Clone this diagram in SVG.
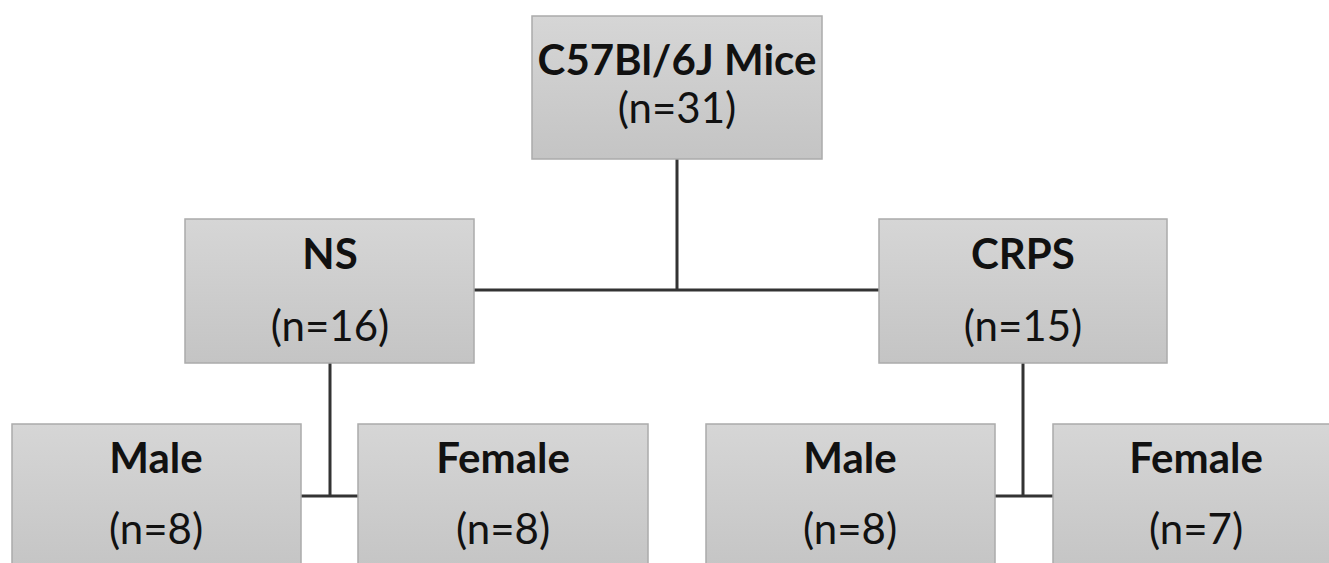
<svg xmlns="http://www.w3.org/2000/svg" width="1329" height="563" viewBox="0 0 1329 563">
<defs>
<linearGradient id="g" x1="0" y1="0" x2="0" y2="1">
<stop offset="0" stop-color="#d6d6d6"/>
<stop offset="1" stop-color="#c4c4c4"/>
</linearGradient>
</defs>
<style>
.box{fill:url(#g);stroke:#ababab;stroke-width:1.5}
.t{font-family:Lato,"Open Sans","Liberation Sans",sans-serif;font-size:42px;fill:#111;text-anchor:middle}
.b{font-weight:bold}
.c{stroke:#333;stroke-width:3;fill:none}
</style>
<rect width="1329" height="563" fill="#fff"/>
<g id="connectors">
<path class="c" d="M677 159V290M474 290H880"/>
<path class="c" d="M330 363V496M301 496H358"/>
<path class="c" d="M1023 363V496M995 496H1053"/>
</g>
<g id="root">
<rect class="box" x="532" y="16" width="290" height="143"/>
<text class="t b" x="677" y="75">C57Bl/6J Mice</text>
<text class="t" x="677" y="123">(n=31)</text>
</g>
<g id="ns">
<rect class="box" x="185" y="219" width="289" height="144"/>
<text class="t b" x="330" y="269">NS</text>
<text class="t" x="330" y="341">(n=16)</text>
</g>
<g id="crps">
<rect class="box" x="879" y="219" width="288" height="144"/>
<text class="t b" x="1023" y="269">CRPS</text>
<text class="t" x="1023" y="341">(n=15)</text>
</g>
<g id="ns-male">
<rect class="box" x="12" y="424" width="289" height="150"/>
<text class="t b" x="156" y="473">Male</text>
<text class="t" x="156" y="544">(n=8)</text>
</g>
<g id="ns-female">
<rect class="box" x="358" y="424" width="290" height="150"/>
<text class="t b" x="503" y="473">Female</text>
<text class="t" x="503" y="544">(n=8)</text>
</g>
<g id="crps-male">
<rect class="box" x="706" y="424" width="289" height="150"/>
<text class="t b" x="850" y="473">Male</text>
<text class="t" x="850" y="544">(n=8)</text>
</g>
<g id="crps-female">
<rect class="box" x="1053" y="424" width="290" height="150"/>
<text class="t b" x="1196" y="473">Female</text>
<text class="t" x="1196" y="544">(n=7)</text>
</g>
</svg>
